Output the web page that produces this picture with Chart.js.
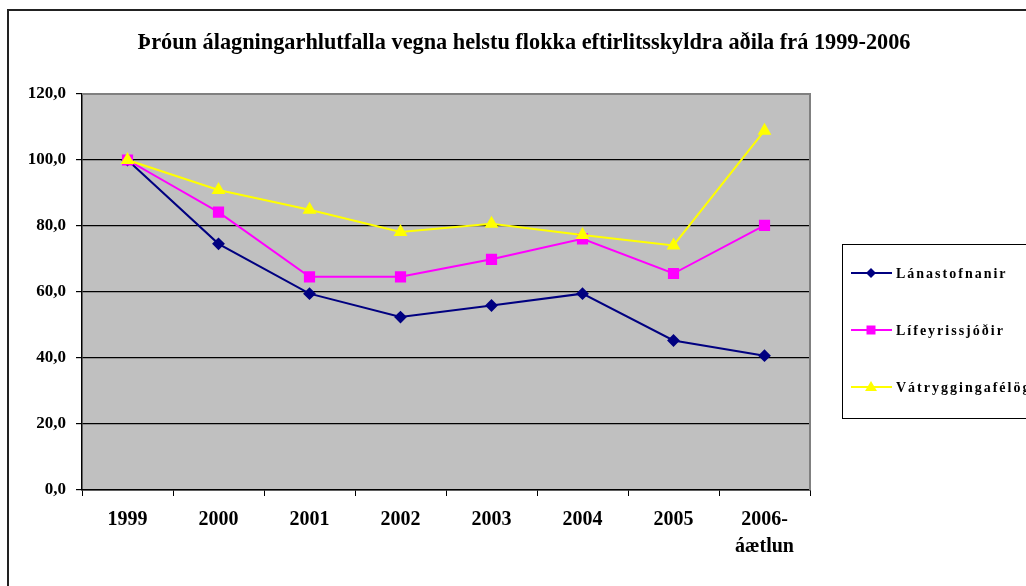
<!DOCTYPE html>
<html>
<head>
<meta charset="utf-8">
<script src="https://cdn.jsdelivr.net/npm/chart.js@4.4.0/dist/chart.umd.min.js"></script>
<style>
  html, body { margin: 0; padding: 0; background: #fff; }
  #wrap { width: 1026px; height: 586px; position: relative; }
</style>
</head>
<body>
<div id="wrap"><canvas id="chart" width="1026" height="586"></canvas></div>
<script>
const title = 'Þróun álagningarhlutfalla vegna helstu flokka eftirlitsskyldra aðila frá 1999-2006';
const years = ['1999', '2000', '2001', '2002', '2003', '2004', '2005', ['2006-', 'áætlun']];
const lanastofnanir = [100, 74.6, 59.5, 52.4, 55.9, 59.5, 45.3, 40.7];
const lifeyrissjodir = [100, 84.2, 64.6, 64.6, 69.9, 76.1, 65.6, 80.2];
const vatryggingafelog = [100, 90.9, 84.9, 78.2, 80.7, 77.3, 74.1, 108.9];
const yTicks = [0, 20, 40, 60, 80, 100, 120];

const serif = '"Liberation Serif", "Times New Roman", serif';

// grey plot area, outer frame, title and the boxed legend on the right
const excelLook = {
    id: 'excelLook',
    beforeDraw(chart) {
        const { ctx, chartArea: a } = chart;
        ctx.save();
        ctx.fillStyle = '#c0c0c0';
        ctx.fillRect(a.left, a.top, a.right - a.left, a.bottom - a.top);
        ctx.restore();
    },
    afterDraw(chart) {
        const { ctx, chartArea: a } = chart;
        ctx.save();
        // plot border (top/right grey)
        ctx.strokeStyle = '#808080';
        ctx.lineWidth = 2;
        ctx.beginPath();
        ctx.moveTo(a.left, a.top);
        ctx.lineTo(a.right, a.top);
        ctx.lineTo(a.right, a.bottom);
        ctx.stroke();

        // outer frame
        ctx.strokeStyle = '#222';
        ctx.lineWidth = 2;
        ctx.beginPath();
        ctx.moveTo(8, 600);
        ctx.lineTo(8, 10);
        ctx.lineTo(1030, 10);
        ctx.stroke();

        // title
        ctx.fillStyle = '#000';
        ctx.font = 'bold 22.3px ' + serif;
        ctx.textAlign = 'center';
        ctx.textBaseline = 'middle';
        ctx.fillText(title, 524, 43);

        // legend
        ctx.strokeStyle = '#000';
        ctx.lineWidth = 1;
        ctx.strokeRect(842.5, 244.5, 200, 174);
        const rows = [273, 330, 387];
        chart.data.datasets.forEach((ds, i) => {
            const y = rows[i];
            ctx.strokeStyle = ds.borderColor;
            ctx.lineWidth = 2;
            ctx.beginPath();
            ctx.moveTo(851, y);
            ctx.lineTo(892, y);
            ctx.stroke();
            drawMarker(ctx, ds.pointStyle, 871, y, ds.pointBackgroundColor);
            ctx.fillStyle = '#000';
            ctx.font = 'bold 14px ' + serif;
            ctx.textAlign = 'left';
            ctx.letterSpacing = '2px';
            ctx.fillText(ds.label, 896, y + 1);
            ctx.letterSpacing = '0px';
        });
        ctx.restore();
    }
};

function drawMarker(ctx, style, x, y, color) {
    ctx.fillStyle = color;
    ctx.beginPath();
    if (style === 'rectRot') {
        ctx.moveTo(x, y - 5); ctx.lineTo(x + 5, y); ctx.lineTo(x, y + 5); ctx.lineTo(x - 5, y);
    } else if (style === 'rect') {
        ctx.rect(x - 4.5, y - 4.5, 9, 9);
    } else {
        ctx.moveTo(x, y - 6); ctx.lineTo(x + 6, y + 4); ctx.lineTo(x - 6, y + 4);
    }
    ctx.closePath();
    ctx.fill();
}

const ctx = document.getElementById('chart').getContext('2d');
new Chart(ctx, {
    type: 'line',
    data: {
        labels: years,
        datasets: [
            {
                label: 'Lánastofnanir',
                data: lanastofnanir,
                borderColor: '#000080',
                backgroundColor: '#000080',
                pointBackgroundColor: '#000080',
                pointBorderColor: '#000080',
                pointStyle: 'rectRot',
                pointRadius: 5,
                borderWidth: 2,
                order: 3
            },
            {
                label: 'Lífeyrissjóðir',
                data: lifeyrissjodir,
                borderColor: '#ff00ff',
                backgroundColor: '#ff00ff',
                pointBackgroundColor: '#ff00ff',
                pointBorderColor: '#ff00ff',
                pointStyle: 'rect',
                pointRadius: 6.5,
                borderWidth: 2,
                order: 2
            },
            {
                label: 'Vátryggingafélög',
                data: vatryggingafelog,
                borderColor: '#ffff00',
                backgroundColor: '#ffff00',
                pointBackgroundColor: '#ffff00',
                pointBorderColor: '#ffff00',
                pointStyle: 'triangle',
                pointRadius: 6,
                borderWidth: 2,
                order: 1
            }
        ]
    },
    options: {
        responsive: false,
        animation: false,
        events: [],
        layout: { padding: { left: 4, right: 216, top: 94, bottom: 0 } },
        plugins: {
            legend: { display: false },
            title: { display: false },
            tooltip: { enabled: false }
        },
        scales: {
            x: {
                offset: true,
                afterFit(scale) { scale.height = 96; },
                grid: {
                    offset: true,
                    drawOnChartArea: false,
                    color: '#000',
                    tickLength: 6
                },
                border: { color: '#000', width: 1.5 },
                ticks: {
                    color: '#000',
                    font: { family: serif, size: 20, weight: 'bold', lineHeight: 1.35 },
                    padding: 10,
                    maxRotation: 0,
                    autoSkip: false
                }
            },
            y: {
                min: 0,
                max: 120,
                afterFit(scale) { scale.width = 78; },
                afterBuildTicks(scale) { scale.ticks = yTicks.map(v => ({ value: v })); },
                grid: {
                    color: '#000',
                    tickLength: 6,
                    lineWidth: 1.2
                },
                border: { color: '#000', width: 1.5 },
                ticks: {
                    color: '#000',
                    font: { family: serif, size: 17, weight: 'bold' },
                    padding: 10,
                    callback: v => v.toFixed(1).replace('.', ',')
                }
            }
        }
    },
    plugins: [excelLook]
});
</script>
</body>
</html>
